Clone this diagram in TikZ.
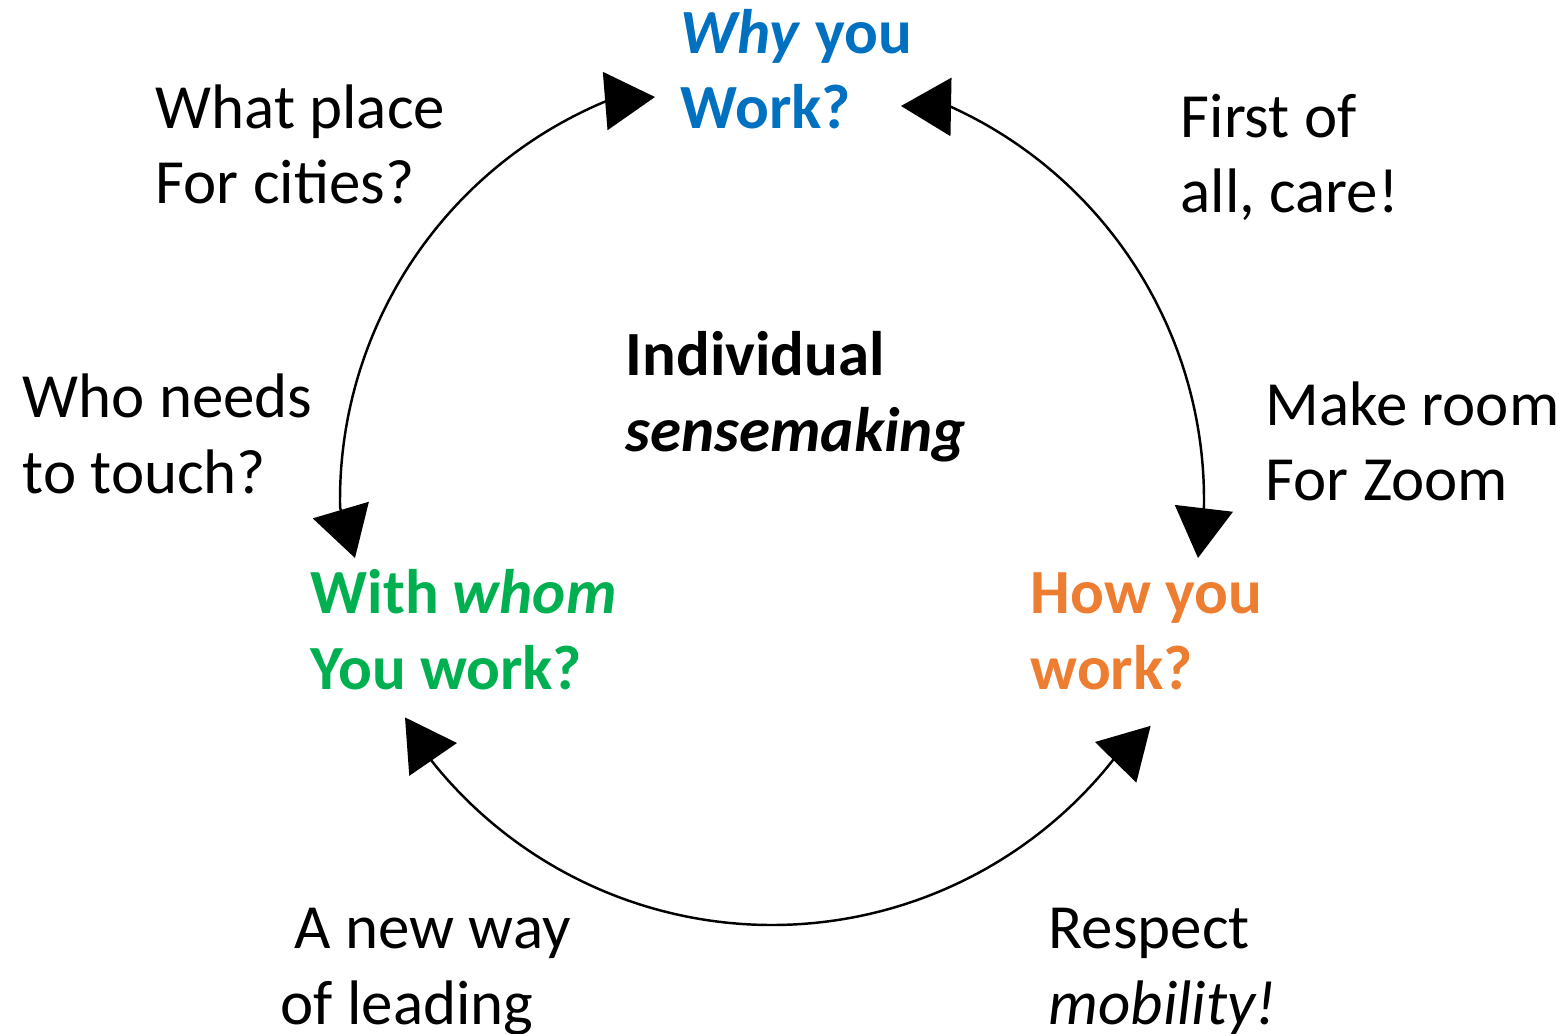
\documentclass[tikz,border=0pt]{standalone}
\usepackage{fontspec}
\setmainfont{Carlito}
\usepackage{xcolor}
\usetikzlibrary{arrows.meta}

\definecolor{whyblue}{HTML}{0070C0}
\definecolor{whomgreen}{HTML}{00B050}
\definecolor{howorange}{HTML}{ED7D31}

\begin{document}
\begin{tikzpicture}[
  txt/.style={anchor=base west, align=left, inner sep=0pt, font=\fontsize{17.9}{21.6}\selectfont},
  key/.style={txt, font=\fontsize{17.9}{21.6}\selectfont\bfseries},
  arr/.style={{Triangle[length=5mm,width=5.8mm]}-{Triangle[length=5mm,width=5.8mm]}, line width=0.7pt},
]
\useasboundingbox (0,0) rectangle (15.65,-10.34);

% texts (anchored at the baseline of their last line)
\node[key, text=whyblue] (why) at (6.80,-1.29) {\textit{Why} you\\Work?};
\node[txt] (city) at (1.55,-2.04) {What place\\For cities?};
\node[txt] (care) at (11.80,-2.13) {First of\\all, care!};
\node[key] (indiv) at (6.25,-4.51) {Individual\\\textit{sensemaking}};
\node[txt] (touch) at (0.22,-4.93) {Who needs\\to touch?};
\node[txt] (zoom) at (12.65,-5.01) {Make room\\For Zoom};
\node[key, text=whomgreen] (whom) at (3.10,-6.89) {With \textit{whom}\\You work?};
\node[key, text=howorange] (how) at (10.30,-6.89) {How you\\work?};
\node[txt] (lead) at (2.80,-10.24) {\ A new way\\of leading};
\node[txt] (mob) at (10.48,-10.24) {Respect\\\textit{mobility!}};

% arc centres and arrow tips
\coordinate (ctr) at (7.72,-5.00);
\coordinate (ctrb) at (7.72,-4.90);
\coordinate (whomtip) at (3.55,-5.58);
\coordinate (whytipl) at (6.55,-0.97);
\coordinate (whytipr) at (9.01,-1.06);
\coordinate (howtip) at (11.98,-5.58);
\coordinate (whomtipb) at (4.57,-7.43);
\coordinate (howtipb) at (10.95,-7.42);

\draw[arr] (whomtip) -- ([shift={(181:4.32)}]ctr) arc[start angle=181, end angle=112.5, radius=4.32] -- (whytipl);
\draw[arr] (whytipr) -- ([shift={(65.5:4.32)}]ctr) arc[start angle=65.5, end angle=-1, radius=4.32] -- (howtip);
\draw[arr] (whomtipb) -- ([shift={(216:4.35)}]ctrb) arc[start angle=216, end angle=323.5, radius=4.35] -- (howtipb);
\end{tikzpicture}
\end{document}
